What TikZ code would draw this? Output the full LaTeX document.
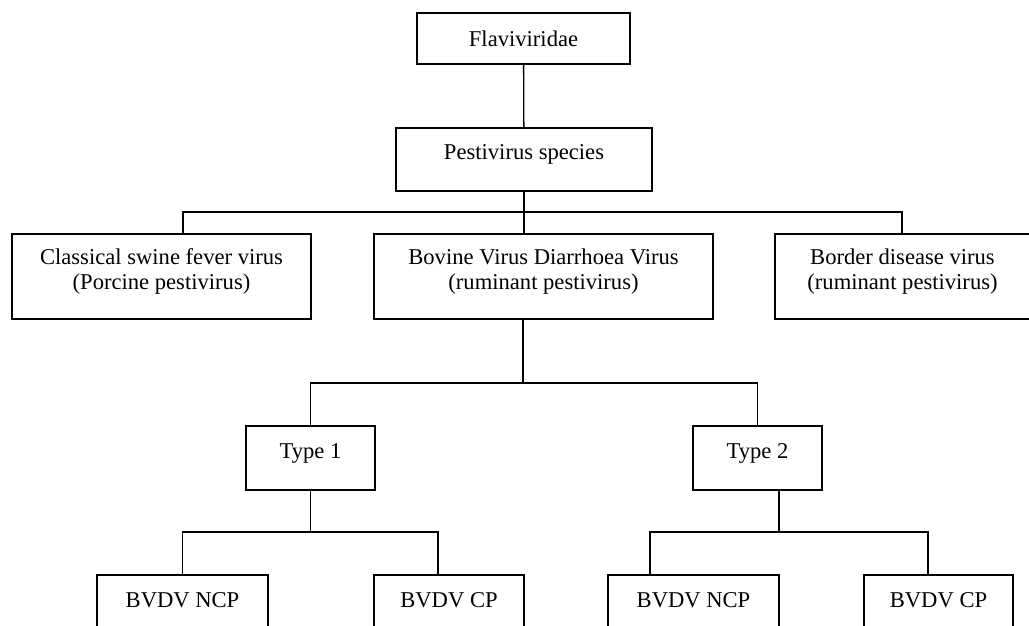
\documentclass[tikz,border=0pt]{standalone}
\usepackage{fontspec}
\setmainfont{Liberation Serif}
\newcommand\pied{\rule[-14pt]{0pt}{14pt}}

\begin{document}
\begin{tikzpicture}[x=1pt,y=-1pt]
% style des boîtes
\tikzstyle{boite}=[rectangle,draw,line width=1.3pt,align=center,inner sep=0pt,font=\fontsize{22.6}{25}\selectfont]
\tikzstyle{ligne}=[boite,text height=16pt,text depth=16pt]
% style des liens
\tikzstyle{lien}=[line width=1.3pt]
\useasboundingbox (0,0) rectangle (1029,626);
\clip (0,0) rectangle (1029,626);
% placement des boîtes
\node[boite,minimum width=213pt,minimum height=51pt] (fla) at (523.5,38.5) {Flaviviridae};
\node[ligne,minimum width=256pt,minimum height=63pt] (pes) at (524,159.5) {Pestivirus species};
\node[boite,minimum width=299pt,minimum height=85pt] (csf) at (161.5,276.5) {Classical swine fever virus\\(Porcine pestivirus)\pied};
\node[boite,minimum width=339pt,minimum height=85pt] (bvdv) at (543.5,276.5) {Bovine Virus Diarrhoea Virus\\(ruminant pestivirus)\pied};
\node[boite,minimum width=255pt,minimum height=85pt] (bdv) at (902.5,276.5) {Border disease virus\\(ruminant pestivirus)\pied};
\node[ligne,minimum width=129pt,minimum height=64pt] (t1) at (310.5,458) {Type 1};
\node[ligne,minimum width=129pt,minimum height=64pt] (t2) at (757.5,458) {Type 2};
\node[ligne,minimum width=171pt,minimum height=64pt] (n1) at (182.5,607) {BVDV NCP};
\node[ligne,minimum width=150pt,minimum height=64pt] (c1) at (449,607) {BVDV CP};
\node[ligne,minimum width=171pt,minimum height=64pt] (n2) at (693.5,607) {BVDV NCP};
\node[ligne,minimum width=149pt,minimum height=64pt] (c2) at (938.5,607) {BVDV CP};
% points de jonction
\coordinate (h1) at (183,212);
\coordinate (h2) at (902,212);
\coordinate (h3) at (523,383);
\coordinate (k1) at (438,532);
\coordinate (k2) at (779,532);
\coordinate (k3) at (650,532);
\coordinate (k4) at (928,532);
% placement des liens
\draw[lien] (fla) -- (pes);
\draw[lien] (pes.south) -- (pes.south |- bvdv.north);
\draw[lien] (csf.north -| h1) |- (h2) -- (bdv.north -| h2);
\draw[lien] (bvdv.south -| h3) -- (h3);
\draw[lien] (t1.north) -- (t1.north |- h3) -- (t2.north |- h3) -- (t2.north);
\draw[lien] (t1.south) -- (t1.south |- k1);
\draw[lien] (n1.north) |- (k1) -- (c1.north -| k1);
\draw[lien] (t2.south -| k2) -- (k2);
\draw[lien] (n2.north -| k3) |- (k4) -- (c2.north -| k4);
\end{tikzpicture}
\end{document}
